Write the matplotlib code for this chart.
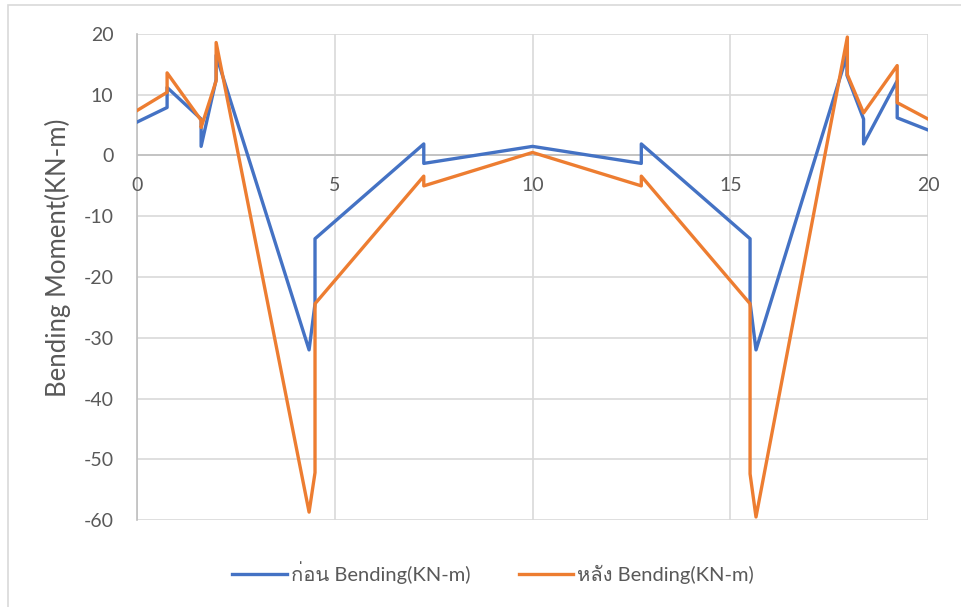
import matplotlib
matplotlib.use("Agg")
import matplotlib.pyplot as plt
from matplotlib.patches import Rectangle
from matplotlib import font_manager
from matplotlib.ft2font import FT2Font

# ระยะตามความยาวคาน (m) และโมเมนต์ดัด (KN-m)
x_before = [0, 0.76, 0.76, 1.62, 1.62, 2.0, 2.0, 4.35, 4.5, 4.5, 7.25, 7.25, 10,
            12.75, 12.75, 15.5, 15.5, 15.65, 17.95, 17.95, 18.37, 18.37, 19.22, 19.22, 20]
m_before = [5.5, 7.9, 11.2, 6.0, 1.5, 12.5, 16.5, -32.0, -24.4, -13.7, 1.9, -1.3, 1.5,
            -1.3, 1.9, -13.7, -24.2, -32.0, 16.5, 13.2, 6.0, 1.9, 12.3, 6.2, 4.2]

x_after = [0, 0.76, 0.76, 1.62, 1.62, 2.0, 2.0, 4.35, 4.5, 4.5, 7.25, 7.25, 10,
           12.75, 12.75, 15.5, 15.5, 15.65, 17.96, 17.96, 18.37, 19.22, 19.22, 20]
m_after = [7.4, 10.4, 13.6, 5.8, 4.6, 12.3, 18.6, -58.7, -52.2, -24.4, -3.4, -5.0, 0.5,
           -5.0, -3.4, -24.4, -52.4, -59.5, 19.5, 13.3, 7.0, 14.8, 8.7, 6.0]

x_ticks = [0, 5, 10, 15, 20]
y_ticks = [-60, -50, -40, -30, -20, -10, 0, 10, 20]

label_before = "ก่อน Bending(KN-m)"
label_after = "หลัง Bending(KN-m)"

# หาฟอนต์ที่มีอักษรไทย ถ้ามี
families = ["Lato", "DejaVu Sans"]
for f in font_manager.fontManager.ttflist:
    try:
        if 0x0E01 in FT2Font(f.fname).get_charmap():
            families.append(f.name)
            break
    except Exception:
        pass
plt.rcParams["font.family"] = families
plt.rcParams["axes.unicode_minus"] = False

fig = plt.figure(figsize=(9.61, 6.07), dpi=100)
ax = fig.add_axes([0.1426, 0.1433, 0.8231, 0.8007])

ax.plot(x_before, m_before, color="#4472C4", lw=2.4, label=label_before, zorder=3)
ax.plot(x_after, m_after, color="#ED7D31", lw=2.4, label=label_after, zorder=4)

ax.set_xlim(0, 20)
ax.set_ylim(-60, 20)
ax.set_xticks(x_ticks)
ax.set_yticks(y_ticks)
ax.grid(True, color="#d9d9d9", lw=1.2)
ax.set_axisbelow(True)

for s in ["top", "right", "bottom"]:
    ax.spines[s].set_visible(False)
ax.spines["left"].set_color("#bfbfbf")
ax.spines["left"].set_linewidth(1.2)
ax.axhline(0, color="#bfbfbf", lw=1.2, zorder=2)

ax.tick_params(axis="both", length=0, labelsize=14, labelcolor="#595959")
ax.tick_params(axis="y", pad=17)
# ป้ายแกน x อยู่ใต้เส้น y=0
ax.set_xticklabels([])
for xv in x_ticks:
    ax.text(xv, -4.9, str(xv), ha="center", va="center", fontsize=14, color="#595959")

ax.set_ylabel("Bending Moment(KN-m)", fontsize=18.5, color="#595959")
ax.yaxis.set_label_coords(-0.084, 0.54)

fig.legend(loc="center", bbox_to_anchor=(0.513, 0.056), ncol=2, frameon=False,
           fontsize=14.5, labelcolor="#595959", handlelength=2.7, columnspacing=2.4,
           handletextpad=0.2)

fig.patches.append(Rectangle((0.008, -0.01), 1.5, 1.002, transform=fig.transFigure,
                             fill=False, edgecolor="#d9d9d9", lw=1.2))

fig.savefig("out.png", dpi=100)
